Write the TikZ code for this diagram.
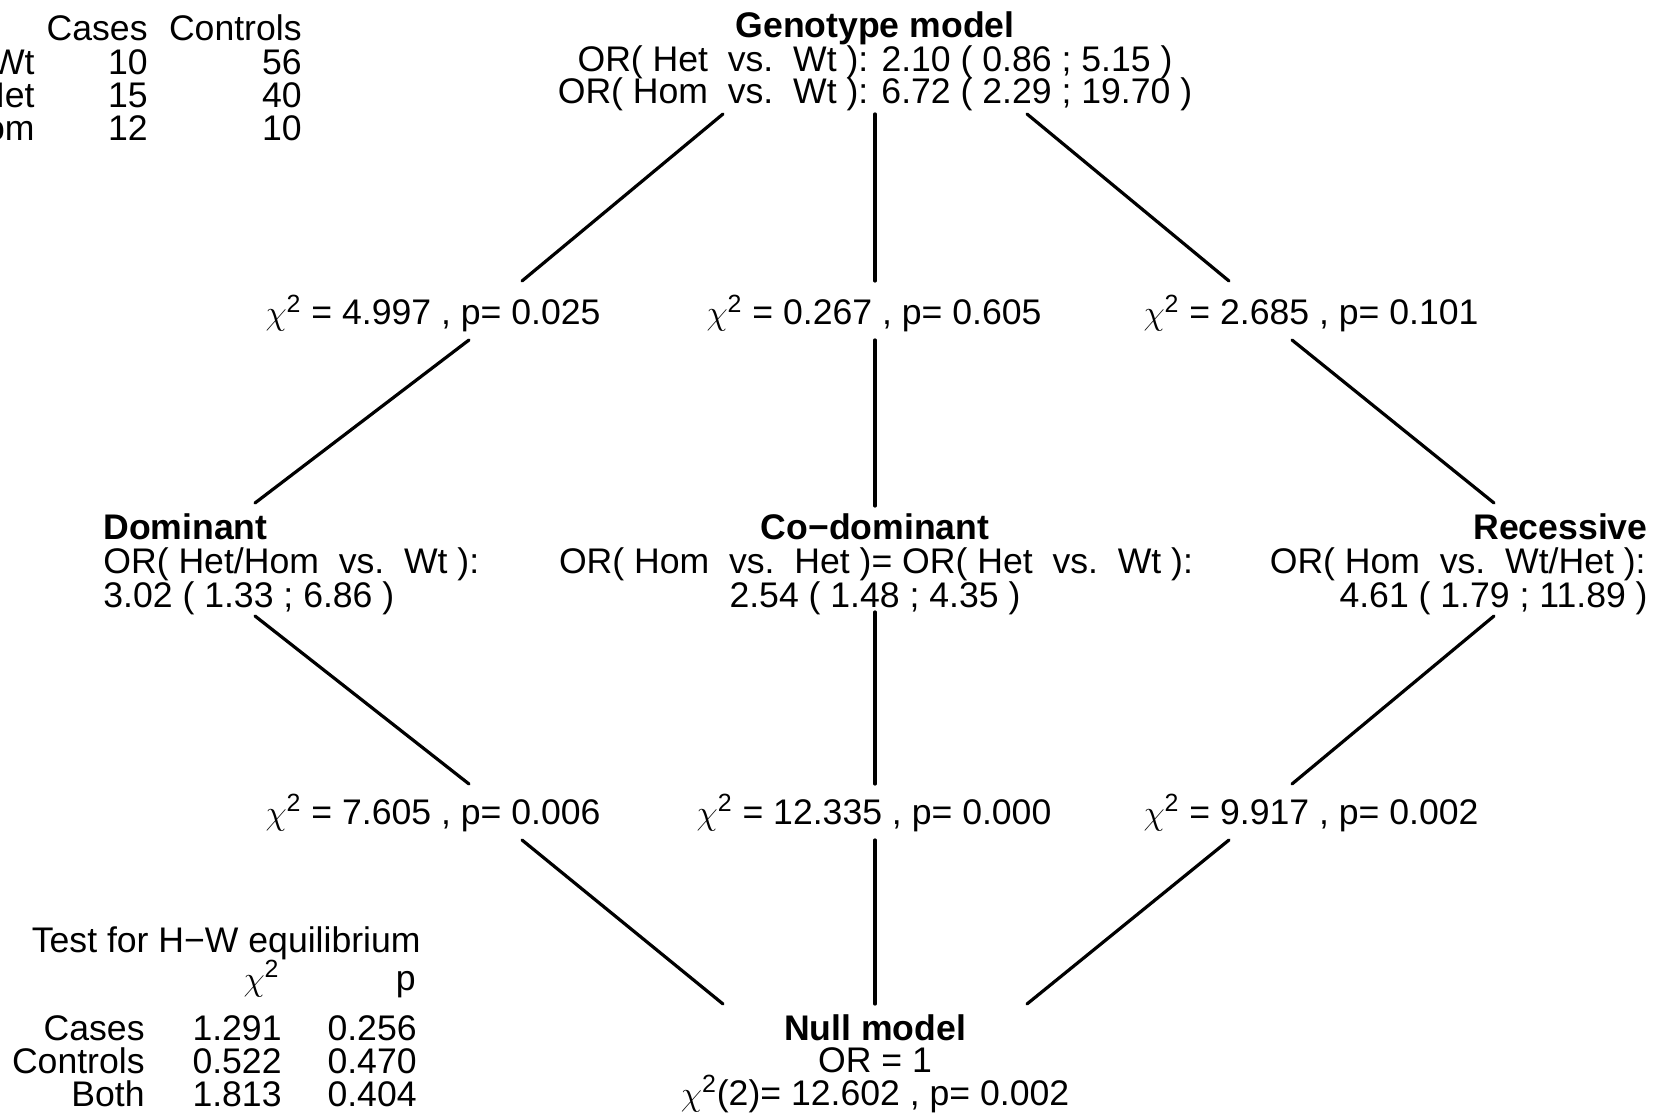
\documentclass[tikz,border=0pt]{standalone}
\usepackage{fontspec}
\setmainfont{Liberation Sans}
\usetikzlibrary{positioning}

\tikzset{
  txt/.style={inner sep=0pt, font=\fontsize{17.8}{20}\selectfont},
  ttl/.style={inner sep=0pt, font=\fontsize{17.8}{20}\selectfont\bfseries},
  link/.style={line width=1.6pt, line cap=round}
}
\newcommand{\chisq}{$\chi$\textsuperscript{2}}

\begin{document}
\begin{tikzpicture}[x=0.5pt, y=-0.5pt]
  \useasboundingbox (0,0) rectangle (1661,1117);

  % counts table
  \node[txt, anchor=base east] (hCases) at (148,41) {Cases};
  \node[txt, anchor=base east] (hControls) at (302,41) {Controls};
  \node[txt, anchor=base east] (rWt) at (35,75) {Wt};
  \node[txt, anchor=base east] (rHet) at (35,108) {Het};
  \node[txt, anchor=base east] (rHom) at (35,141) {Hom};
  \node[txt, anchor=base east] (caWt) at (148,75) {10};
  \node[txt, anchor=base east] (caHet) at (148,108) {15};
  \node[txt, anchor=base east] (caHom) at (148,141) {12};
  \node[txt, anchor=base east] (coWt) at (302,75) {56};
  \node[txt, anchor=base east] (coHet) at (302,108) {40};
  \node[txt, anchor=base east] (coHom) at (302,141) {10};

  % genotype model
  \node[ttl, anchor=base] (Geno) at (875,38) {Genotype model};
  \node[txt, anchor=base] (GenoHet) at (875,72) {OR( Het\ \ vs.\ \ Wt ): 2.10 ( 0.86 ; 5.15 )};
  \node[txt, anchor=base] (GenoHom) at (875,104) {OR( Hom\ \ vs.\ \ Wt ): 6.72 ( 2.29 ; 19.70 )};

  % tests against genotype model
  \node[txt, anchor=base] (chiGD) at (433,325) {\chisq{} = 4.997 , p= 0.025};
  \node[txt, anchor=base] (chiGC) at (874,325) {\chisq{} = 0.267 , p= 0.605};
  \node[txt, anchor=base] (chiGR) at (1311,325) {\chisq{} = 2.685 , p= 0.101};

  % the three models
  \node[ttl, anchor=base west] (Dom) at (103,540) {Dominant};
  \node[txt, anchor=base west] (DomOR) at (103,574) {OR( Het/Hom\ \ vs.\ \ Wt ):};
  \node[txt, anchor=base west] (DomCI) at (103,608) {3.02 ( 1.33 ; 6.86 )};

  \node[ttl, anchor=base] (Codom) at (875,540) {Co−dominant};
  \node[txt, anchor=base] (CodomOR) at (876,574) {OR( Hom\ \ vs.\ \ Het )= OR( Het\ \ vs.\ \ Wt ):};
  \node[txt, anchor=base] (CodomCI) at (875,608) {2.54 ( 1.48 ; 4.35 )};

  \node[ttl, anchor=base east] (Rec) at (1648,540) {Recessive};
  \node[txt, anchor=base east] (RecOR) at (1646,574) {OR( Hom\ \ vs.\ \ Wt/Het ):};
  \node[txt, anchor=base east] (RecCI) at (1648,608) {4.61 ( 1.79 ; 11.89 )};

  % tests against null model
  \node[txt, anchor=base] (chiDN) at (433,824) {\chisq{} = 7.605 , p= 0.006};
  \node[txt, anchor=base] (chiCN) at (874,824) {\chisq{} = 12.335 , p= 0.000};
  \node[txt, anchor=base] (chiRN) at (1311,824) {\chisq{} = 9.917 , p= 0.002};

  % null model
  \node[ttl, anchor=base] (Null) at (875,1040) {Null model};
  \node[txt, anchor=base] (NullOR) at (875,1072) {OR = 1};
  \node[txt, anchor=base] (NullChi) at (875,1105) {\chisq(2)= 12.602 , p= 0.002};

  % H-W table
  \node[txt, anchor=base east] (hw) at (421,952) {Test for H−W equilibrium};
  \node[txt, anchor=base east] (hwChi) at (280,990) {\chisq};
  \node[txt, anchor=base east] (hwP) at (416,990) {p};
  \node[txt, anchor=base east] (hwCases) at (145,1040) {Cases};
  \node[txt, anchor=base east] (hwControls) at (145,1073) {Controls};
  \node[txt, anchor=base east] (hwBoth) at (145,1106) {Both};
  \node[txt, anchor=base east] (hwCasesChi) at (282,1040) {1.291};
  \node[txt, anchor=base east] (hwControlsChi) at (282,1073) {0.522};
  \node[txt, anchor=base east] (hwBothChi) at (282,1106) {1.813};
  \node[txt, anchor=base east] (hwCasesP) at (417,1040) {0.256};
  \node[txt, anchor=base east] (hwControlsP) at (417,1073) {0.470};
  \node[txt, anchor=base east] (hwBothP) at (417,1106) {0.404};

  % ends of the links
  \coordinate (gd1) at (723,114);   \coordinate (gd2) at (522,281);
  \coordinate (gd3) at (469,340);   \coordinate (gd4) at (255,503);
  \coordinate (gc1) at (875,114);   \coordinate (gc2) at (875,281);
  \coordinate (gc3) at (875,340);   \coordinate (gc4) at (875,506);
  \coordinate (gr1) at (1027,114);  \coordinate (gr2) at (1229,281);
  \coordinate (gr3) at (1292,340);  \coordinate (gr4) at (1494,503);
  \coordinate (dn1) at (255,616);   \coordinate (dn2) at (469,784);
  \coordinate (dn3) at (522,840);   \coordinate (dn4) at (723,1004);
  \coordinate (cn1) at (875,612);   \coordinate (cn2) at (875,784);
  \coordinate (cn3) at (875,840);   \coordinate (cn4) at (875,1004);
  \coordinate (rn1) at (1494,616);  \coordinate (rn2) at (1292,784);
  \coordinate (rn3) at (1229,840);  \coordinate (rn4) at (1027,1004);

  \draw[link] (gd1) -- (gd2);
  \draw[link] (gd3) -- (gd4);
  \draw[link] (gc1) -- (gc2);
  \draw[link] (gc3) -- (gc4);
  \draw[link] (gr1) -- (gr2);
  \draw[link] (gr3) -- (gr4);
  \draw[link] (dn1) -- (dn2);
  \draw[link] (dn3) -- (dn4);
  \draw[link] (cn1) -- (cn2);
  \draw[link] (cn3) -- (cn4);
  \draw[link] (rn1) -- (rn2);
  \draw[link] (rn3) -- (rn4);
\end{tikzpicture}
\end{document}
